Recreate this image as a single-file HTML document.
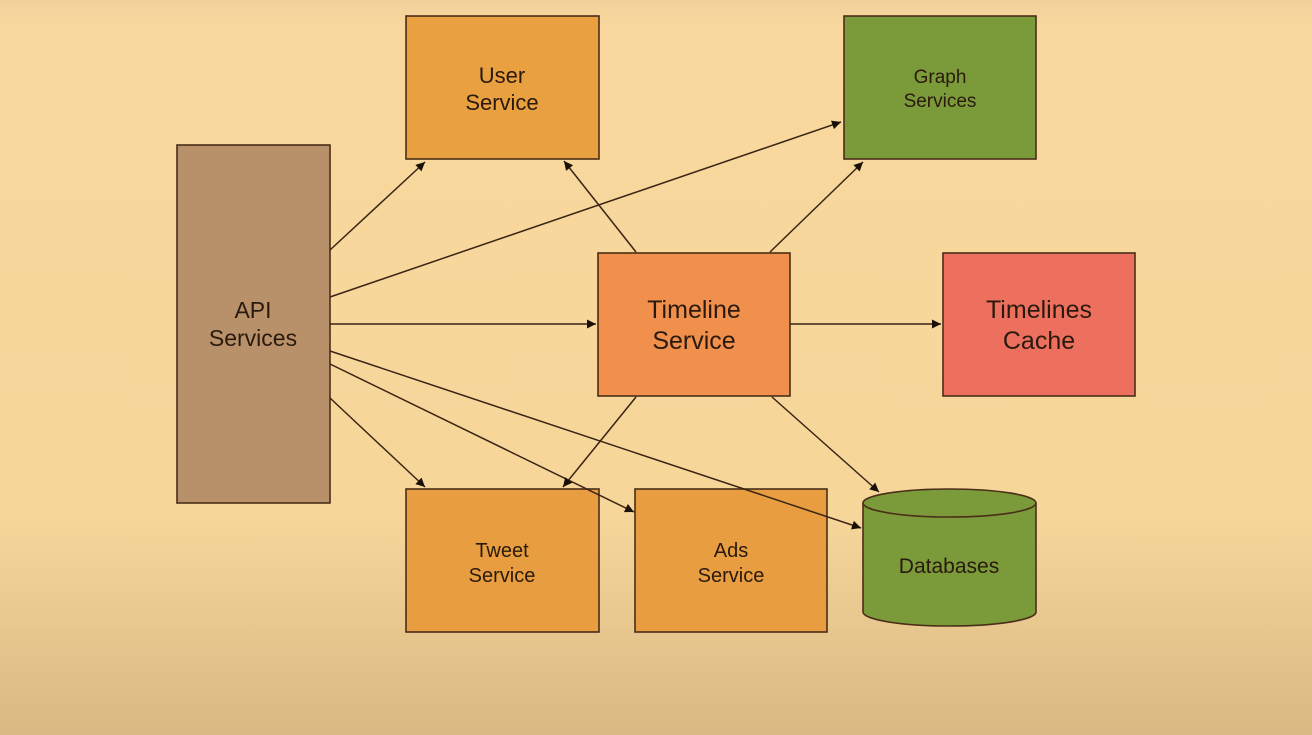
<!DOCTYPE html>
<html><head><meta charset="utf-8"><style>
html,body{margin:0;padding:0;width:1312px;height:735px;overflow:hidden}
svg{display:block}
text{font-family:"Liberation Sans",sans-serif;fill:#2a1a0e;text-anchor:middle}
</style></head><body>
<svg width="1312" height="735" viewBox="0 0 1312 735" xmlns="http://www.w3.org/2000/svg">
<defs>
<linearGradient id="bg" x1="0" y1="0" x2="0" y2="1">
<stop offset="0" stop-color="#f2d29c"/>
<stop offset="0.04" stop-color="#f8d89d"/>
<stop offset="0.7" stop-color="#f7d69a"/>
<stop offset="1" stop-color="#d9b983"/>
</linearGradient>
<marker id="a" viewBox="0 0 10 10" refX="10" refY="5" markerWidth="13" markerHeight="9" markerUnits="userSpaceOnUse" orient="auto">
<path d="M0,0 L10,5 L0,10 z" fill="#1a1008"/>
</marker>
</defs>
<rect width="1312" height="735" fill="url(#bg)"/>
<g stroke="#4a2e18" stroke-width="1.6">
<rect x="177" y="145" width="153" height="358" fill="#b8916a"/>
<rect x="406" y="16" width="193" height="143" fill="#e9a041"/>
<rect x="844" y="16" width="192" height="143" fill="#7b9a3a"/>
<rect x="598" y="253" width="192" height="143" fill="#f0904c"/>
<rect x="943" y="253" width="192" height="143" fill="#ed705f"/>
<rect x="406" y="489" width="193" height="143" fill="#e79d40"/>
<rect x="635" y="489" width="192" height="143" fill="#e79d40"/>
<path d="M863,503 L863,612 A86.5,14 0 0 0 1036,612 L1036,503 A86.5,14 0 0 0 863,503 Z" fill="#7b9a3a"/>
<path d="M863,503 A86.5,14 0 0 0 1036,503" fill="none"/>
</g>
<g stroke="#3a2414" stroke-width="1.5" fill="none" marker-end="url(#a)">
<line x1="330" y1="250" x2="425" y2="162"/>
<line x1="330" y1="297" x2="841" y2="122"/>
<line x1="330" y1="324" x2="596" y2="324"/>
<line x1="330" y1="351" x2="861" y2="528"/>
<line x1="330" y1="364" x2="634" y2="512"/>
<line x1="330" y1="398" x2="425" y2="487"/>
<line x1="636" y1="252" x2="564" y2="161"/>
<line x1="770" y1="252" x2="863" y2="162"/>
<line x1="790" y1="324" x2="941" y2="324"/>
<line x1="636" y1="397" x2="563" y2="487"/>
<line x1="772" y1="397" x2="879" y2="492"/>
</g>
<text x="253" y="318" font-size="23">API</text>
<text x="253" y="346" font-size="23">Services</text>
<text x="502" y="83" font-size="22">User</text>
<text x="502" y="110" font-size="22">Service</text>
<text x="940" y="83" font-size="19">Graph</text>
<text x="940" y="107" font-size="19">Services</text>
<text x="694" y="318" font-size="25">Timeline</text>
<text x="694" y="349" font-size="25">Service</text>
<text x="1039" y="318" font-size="25">Timelines</text>
<text x="1039" y="349" font-size="25">Cache</text>
<text x="502" y="557" font-size="20">Tweet</text>
<text x="502" y="582" font-size="20">Service</text>
<text x="731" y="557" font-size="20">Ads</text>
<text x="731" y="582" font-size="20">Service</text>
<text x="949" y="573" font-size="21">Databases</text>
</svg>
</body></html>
